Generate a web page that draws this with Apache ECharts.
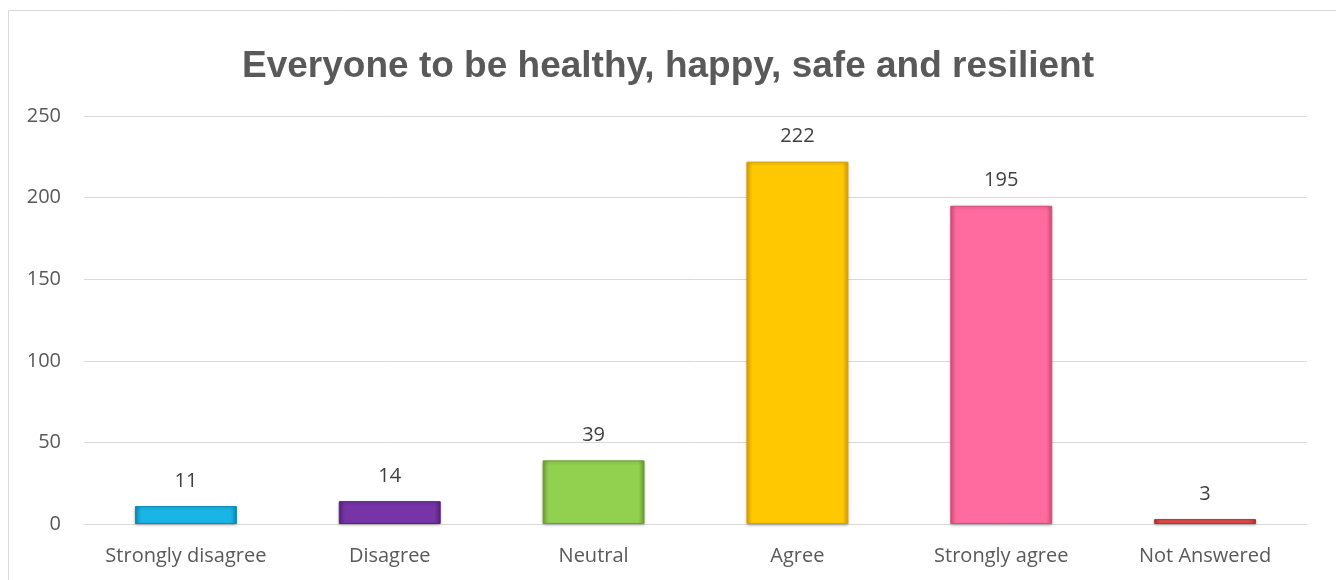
<!DOCTYPE html>
<html>
<head>
<meta charset="utf-8">
<script src="https://cdn.jsdelivr.net/npm/echarts@6/dist/echarts.min.js"></script>
<style>
html,body{margin:0;padding:0;background:#fff;}
#c{width:1336px;height:580px;}
</style>
</head>
<body>
<div id="c"></div>
<script>
const categories = ["Strongly disagree", "Disagree", "Neutral", "Agree", "Strongly agree", "Not Answered"];
const values = [11, 14, 39, 222, 195, 3];
const barColors = ["#1AB4E6", "#7634A6", "#92D050", "#FFC800", "#FF6B9E", "#E84C4C"];
const edgeColors = ["#0A8CB8", "#552480", "#6E9E34", "#D9A200", "#D84C7C", "#B83030"];
const yTicks = [0, 50, 100, 150, 200, 250];
const titleText = "Everyone to be healthy, happy, safe and resilient";

const chart = echarts.init(document.getElementById('c'), null, {renderer: 'canvas'});

function bevel(i) {
  return {
    type: 'linear', x: 0, y: 0, x2: 1, y2: 0,
    colorStops: [
      {offset: 0, color: edgeColors[i]},
      {offset: 0.06, color: barColors[i]},
      {offset: 0.94, color: barColors[i]},
      {offset: 1, color: edgeColors[i]}
    ]
  };
}

const fontFam = '"Open Sans", "Noto Sans", sans-serif';

chart.setOption({
  animation: false,
  title: {
    text: titleText,
    left: 'center',
    top: 43,
    textStyle: {
      fontFamily: '"Liberation Sans", sans-serif',
      fontWeight: 'bold',
      fontSize: 37,
      color: '#595959'
    }
  },
  graphic: [{
    type: 'rect',
    shape: {x: 8.5, y: 10.5, width: 1330, height: 600},
    style: {fill: 'none', stroke: '#D9D9D9', lineWidth: 1},
    silent: true, z: -1
  }],
  grid: {left: 84, right: 29, top: 116, bottom: 56, containLabel: false},
  xAxis: {
    type: 'category',
    data: categories,
    axisTick: {show: false},
    axisLine: {lineStyle: {color: '#D9D9D9', width: 1}},
    axisLabel: {color: '#595959', fontSize: 20, margin: 22, fontFamily: fontFam, interval: 0, hideOverlap: false}
  },
  yAxis: {
    type: 'value',
    min: 0, max: 250, interval: 50,
    axisLine: {show: false},
    axisTick: {show: false},
    splitLine: {lineStyle: {color: '#D9D9D9', width: 1}},
    axisLabel: {
      color: '#595959', fontSize: 20, margin: 23, fontFamily: fontFam,
      formatter: function (v) { return yTicks.indexOf(v) >= 0 ? String(v) : ''; }
    }
  },
  series: [{
    type: 'bar',
    barWidth: '50%',
    data: values.map(function (v, i) {
      return {
        value: v,
        itemStyle: {
          color: bevel(i),
          borderColor: edgeColors[i],
          borderWidth: 1,
          shadowColor: 'rgba(0,0,0,0.25)',
          shadowBlur: 3,
          shadowOffsetY: 1
        }
      };
    }),
    label: {
      show: true,
      position: 'top',
      distance: 15,
      color: '#404040',
      fontSize: 20,
      fontFamily: fontFam
    }
  }]
});
</script>
</body>
</html>
